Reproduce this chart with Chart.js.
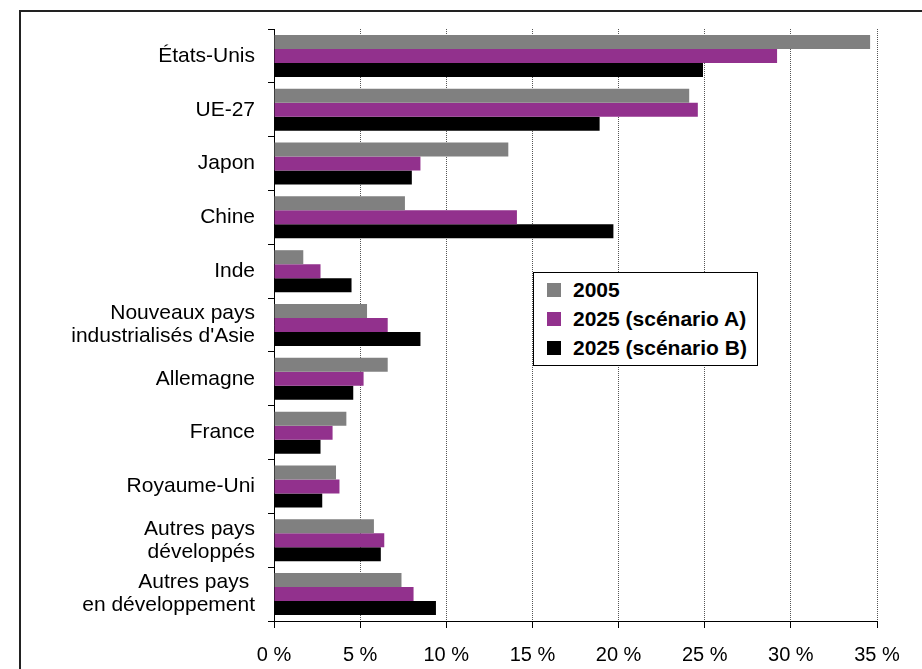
<!DOCTYPE html>
<html>
<head>
<meta charset="utf-8">
<script src="https://cdn.jsdelivr.net/npm/chart.js@4.4.1/dist/chart.umd.min.js"></script>
<style>
    html, body { margin: 0; background: #fff; overflow: hidden; font-family: "Liberation Sans", Arial, sans-serif; }
    #wrap { position: relative; width: 922px; height: 669px; overflow: hidden; }
    #graphique { position: absolute; left: 0; top: 0; display: block; }
    #cadre { position: absolute; left: 19px; top: 10px; width: 1000px; height: 1000px;
             border-left: 2px solid #222; border-top: 2px solid #222; }
    #legende { position: absolute; left: 533px; top: 272px; width: 223px; height: 90px;
               border: 1px solid #000; background: #fff; padding-top: 2px; box-sizing: content-box; }
    .item { height: 29px; display: flex; align-items: center; font-weight: bold; font-size: 21px; }
    .carre { width: 14px; height: 14px; margin-left: 13px; margin-right: 12px; }
</style>
</head>
<body>
<div id="wrap">
    <div id="cadre"></div>
    <canvas id="graphique" width="922" height="669"></canvas>
    <div id="legende"></div>
</div>
<script>
const pays = [
    'États-Unis', 'UE-27', 'Japon', 'Chine', 'Inde',
    ['Nouveaux pays', "industrialisés d'Asie"], 'Allemagne', 'France', 'Royaume-Uni',
    ['Autres pays', 'développés'], ['Autres pays ', 'en développement']
];
const valeurs2005 = [34.6, 24.1, 13.6, 7.6, 1.7, 5.4, 6.6, 4.2, 3.6, 5.8, 7.4];
const valeursA2025 = [29.2, 24.6, 8.5, 14.1, 2.7, 6.6, 5.2, 3.4, 3.8, 6.4, 8.1];
const valeursB2025 = [24.9, 18.9, 8.0, 19.7, 4.5, 8.5, 4.6, 2.7, 2.8, 6.2, 9.4];
const series = ['2005', '2025 (scénario A)', '2025 (scénario B)'];
const couleurs = ['#808080', '#92318D', '#000000'];
const ticksX = [0, 5, 10, 15, 20, 25, 30, 35];

const ctx = document.getElementById('graphique').getContext('2d');

const graphique = new Chart(ctx, {
    type: 'bar',
    data: {
        labels: pays,
        datasets: [valeurs2005, valeursA2025, valeursB2025].map((d, i) => ({
            label: series[i],
            data: d,
            backgroundColor: couleurs[i],
            borderWidth: 0,
            categoryPercentage: 0.78,
            barPercentage: 1.0
        }))
    },
    options: {
        indexAxis: 'y',
        responsive: false,
        animation: false,
        layout: { padding: { top: 29, right: 45, left: 0, bottom: 0 } },
        plugins: { legend: { display: false }, tooltip: { enabled: false } },
        scales: {
            x: {
                min: 0,
                max: 35,
                afterBuildTicks: (scale) => { scale.ticks = ticksX.map(v => ({ value: v })); },
                afterFit: (scale) => { scale.height = 48; scale.paddingRight = 0; scale.paddingLeft = 0; },
                border: { display: true, color: '#000', width: 1, dash: [1, 1] },
                grid: {
                    color: '#555',
                    lineWidth: 1,
                    tickLength: 7,
                    tickColor: '#000',
                    tickBorderDash: []
                },
                ticks: {
                    color: '#000',
                    padding: 15,
                    maxRotation: 0,
                    font: { family: '"Liberation Sans", Arial', size: 20 },
                    callback: (v) => v + ' %'
                }
            },
            y: {
                afterFit: (scale) => { scale.width = 274; scale.paddingTop = 0; scale.paddingBottom = 0; },
                border: { display: true, color: '#000', width: 1 },
                grid: {
                    drawOnChartArea: false,
                    tickLength: 6,
                    tickColor: '#000',
                    offset: true
                },
                ticks: {
                    color: '#000',
                    padding: 13,
                    font: { family: '"Liberation Sans", Arial', size: 21, lineHeight: 1.1 }
                }
            }
        }
    }
});

// Légende
const legende = document.getElementById('legende');
series.forEach((nom, i) => {
    const ligne = document.createElement('div');
    ligne.className = 'item';
    const carre = document.createElement('span');
    carre.className = 'carre';
    carre.style.background = couleurs[i];
    const texte = document.createElement('span');
    texte.textContent = nom;
    ligne.appendChild(carre);
    ligne.appendChild(texte);
    legende.appendChild(ligne);
});
</script>
</body>
</html>
